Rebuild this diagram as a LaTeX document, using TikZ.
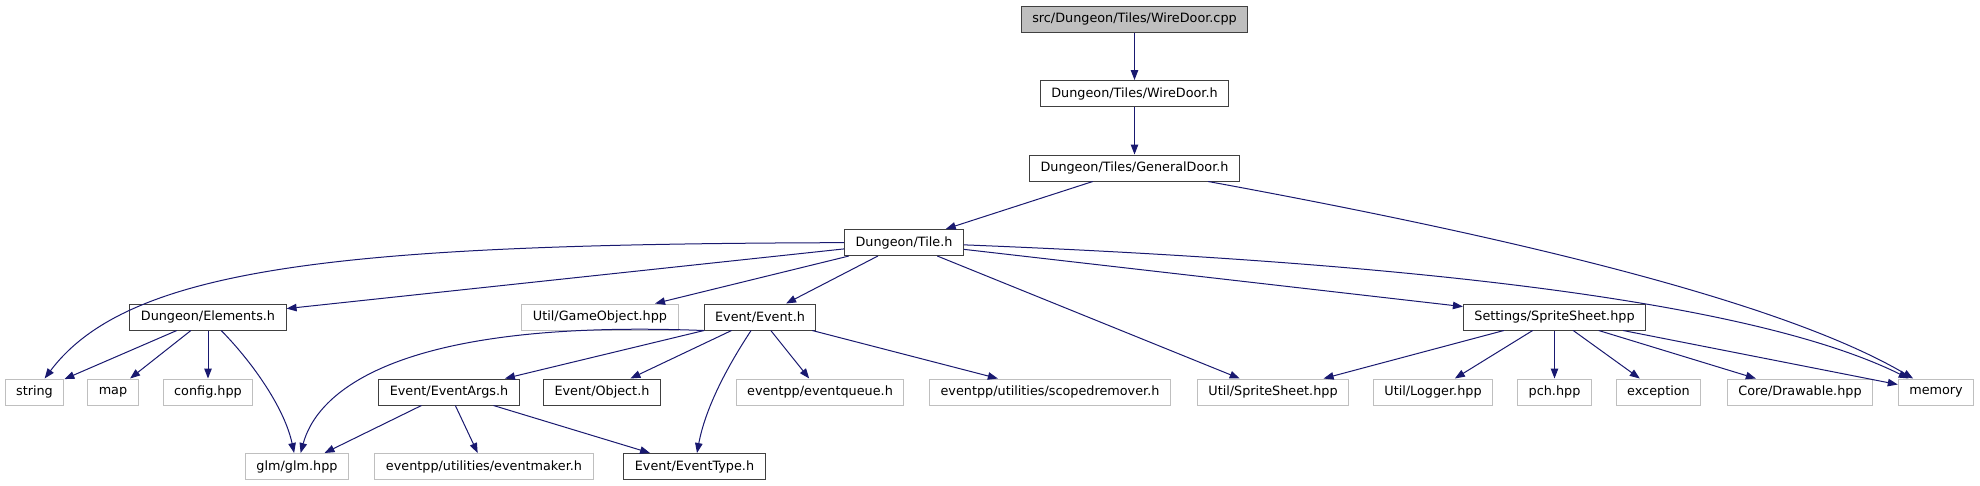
\documentclass[tikz,border=0pt]{standalone}
\usepackage{fontspec}
\setmainfont{DejaVu Sans}
\usetikzlibrary{arrows.meta}
\definecolor{edgeBlue}{HTML}{191970}
\definecolor{boxGrey}{HTML}{BFBFBF}

\begin{document}
\begin{tikzpicture}[x=1pt, y=-1pt,
    box/.style={draw=black!75, line width=1pt, minimum height=26pt,
      inner xsep=11pt, inner ysep=0pt, text=black,
      font=\fontsize{12.8}{14}\selectfont},
    sys/.style={box, draw=boxGrey},
    root/.style={box, fill=boxGrey},
    edge/.style={draw=edgeBlue, line width=1pt,
      -{Triangle[length=10pt, width=7.5pt]}}]
  \fill[white] (0,0) rectangle (1980,485);
  \useasboundingbox (0,0) rectangle (1980,485);
  % top chain
  \node[root] (cpp) at (1134.5,19) {src/Dungeon/Tiles/WireDoor.cpp};
  \node[box] (wiredoor) at (1134.5,93.5) {Dungeon/Tiles/WireDoor.h};
  \node[box] (generaldoor) at (1134.5,168) {Dungeon/Tiles/GeneralDoor.h};
  \node[box] (tile) at (904,242.5) {Dungeon/Tile.h};
  % second level
  \node[box] (elements) at (208,317) {Dungeon/Elements.h};
  \node[sys] (gameobject) at (600,317) {Util/GameObject.hpp};
  \node[box] (event) at (760,317) {Event/Event.h};
  \node[box] (settings) at (1554.5,317) {Settings/SpriteSheet.hpp};
  % third level
  \node[sys] (string) at (34.5,392) {string};
  \node[sys] (map) at (113,392) {map};
  \node[sys] (config) at (208,392) {config.hpp};
  \node[box] (eventargs) at (449,392) {Event/EventArgs.h};
  \node[box] (object) at (602,392) {Event/Object.h};
  \node[sys] (eventqueue) at (820,392) {eventpp/eventqueue.h};
  \node[sys] (scopedremover) at (1050,392) {eventpp/utilities/scopedremover.h};
  \node[sys] (utilsprite) at (1273,392) {Util/SpriteSheet.hpp};
  \node[sys] (logger) at (1433,392) {Util/Logger.hpp};
  \node[sys] (pch) at (1554.5,392) {pch.hpp};
  \node[sys] (exception) at (1658.5,392) {exception};
  \node[sys] (drawable) at (1800,392) {Core/Drawable.hpp};
  \node[sys] (memory) at (1936,392) {memory};
  % bottom
  \node[sys] (glm) at (297,466.5) {glm/glm.hpp};
  \node[sys] (eventmaker) at (484,466.5) {eventpp/utilities/eventmaker.h};
  \node[box] (eventtype) at (694.5,466.5) {Event/EventType.h};
  % straight includes
  \foreach \a/\b in {cpp/wiredoor, wiredoor/generaldoor, generaldoor/tile,
      tile/elements, tile/gameobject, tile/event, tile/utilsprite, tile/settings,
      elements/string, elements/map, elements/config,
      event/eventargs, event/object, event/eventqueue, event/scopedremover,
      eventargs/glm, eventargs/eventmaker, eventargs/eventtype,
      settings/utilsprite, settings/logger, settings/pch, settings/exception,
      settings/drawable, settings/memory}
    \draw[edge] (\a) -- (\b);
  % curved includes
  \draw[edge] (generaldoor) .. controls (1500,235) and (1780,300) .. (memory);
  \draw[edge] (tile) .. controls (1400,262) and (1750,300) .. (memory);
  \draw[edge] (tile) .. controls (350,244) and (130,265) .. (string);
  \draw[edge] (elements) .. controls (255,365) and (285,410) .. (glm);
  \draw[edge] (event.south west) .. controls (380,318) and (315,400) .. (glm);
  \draw[edge] (event) .. controls (725,370) and (705,410) .. (eventtype);
\end{tikzpicture}
\end{document}
